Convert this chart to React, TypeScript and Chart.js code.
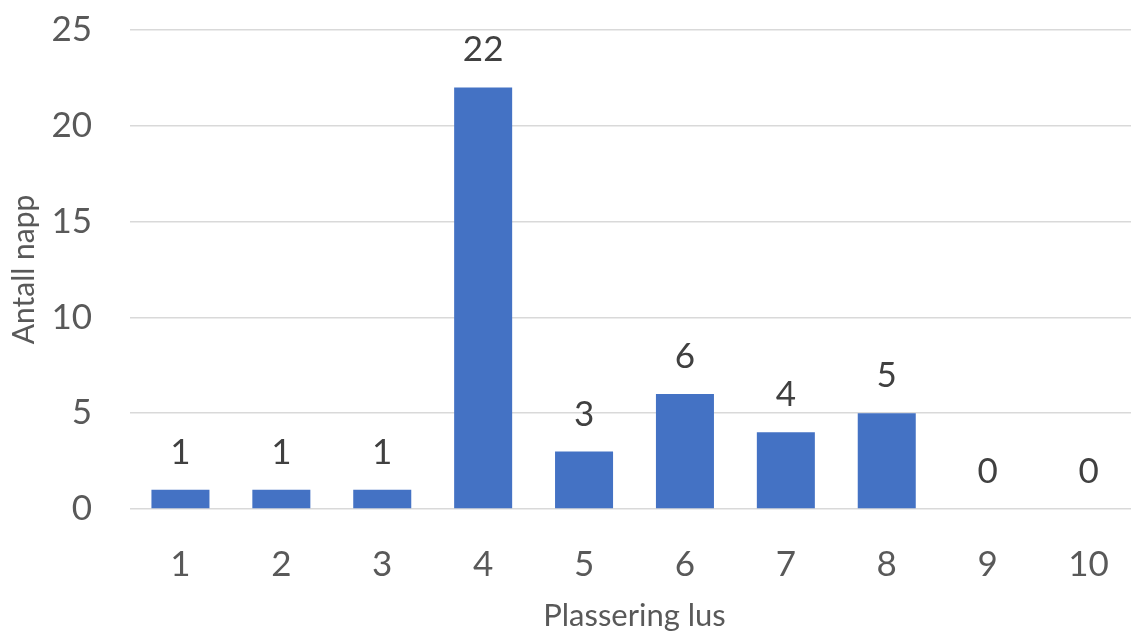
import React, { useEffect, useRef } from "react";
import { Chart, registerables } from "chart.js";

Chart.register(...registerables);

const categories = ["1", "2", "3", "4", "5", "6", "7", "8", "9", "10"];
const values = [1, 1, 1, 22, 3, 6, 4, 5, 0, 0];
const yTitle = "Antall napp";
const xTitle = "Plassering lus";

const FONT = "Lato, 'Open Sans', sans-serif";
const TEXT = "#595959";

const labelsPlugin = {
  id: "valueLabels",
  afterDatasetsDraw(chart: any) {
    const { ctx } = chart;
    const meta = chart.getDatasetMeta(0);
    ctx.save();
    ctx.font = `35px ${FONT}`;
    ctx.fillStyle = "#404040";
    ctx.textAlign = "center";
    ctx.textBaseline = "alphabetic";
    meta.data.forEach((bar: any, i: number) => {
      ctx.fillText(String(values[i]), bar.x, bar.y - 26);
    });
    ctx.restore();
  },
};

export default function App() {
  const ref = useRef<HTMLCanvasElement>(null);
  useEffect(() => {
    if (!ref.current) return;
    const chart = new Chart(ref.current, {
      type: "bar",
      data: {
        labels: categories,
        datasets: [
          {
            data: values,
            backgroundColor: "#4472C4",
            categoryPercentage: 1,
            barPercentage: 0.575,
          },
        ],
      },
      options: {
        animation: false,
        responsive: false,
        devicePixelRatio: 1,
        layout: { padding: { top: 30, right: 1, left: 0, bottom: 0 } },
        plugins: { legend: { display: false }, tooltip: { enabled: false } },
        scales: {
          x: {
            grid: { display: false, drawTicks: false },
            border: { display: false },
            ticks: { font: { size: 35, family: FONT }, color: TEXT, padding: 35 },
            title: {
              display: true,
              text: xTitle,
              font: { size: 31, family: FONT },
              color: TEXT,
              padding: { top: 0, bottom: 0 },
            },
            afterFit: (s: any) => {
              s.height = 126;
              s.paddingLeft = 0;
              s.paddingRight = 0;
            },
          },
          y: {
            min: 0,
            max: 25,
            grid: { color: "#d9d9d9", lineWidth: 1.5, drawTicks: false },
            border: { display: false },
            ticks: { stepSize: 5, font: { size: 35, family: FONT }, color: TEXT, padding: 38 },
            title: {
              display: true,
              text: yTitle,
              font: { size: 30, family: FONT },
              color: TEXT,
              padding: { top: 6, bottom: 0 },
            },
            afterFit: (s: any) => {
              s.width = 130;
              s.paddingTop = 0;
              s.paddingBottom = 0;
            },
          },
        },
      },
      plugins: [labelsPlugin],
    });
    return () => chart.destroy();
  }, []);
  return (
    <div
      style={{
        position: "fixed",
        left: 0,
        top: 0,
        width: 1131,
        height: 635,
        overflow: "hidden",
        background: "#fff",
      }}
    >
      <canvas ref={ref} width={1140} height={635} style={{ width: 1140, height: 635, display: "block" }} />
    </div>
  );
}
